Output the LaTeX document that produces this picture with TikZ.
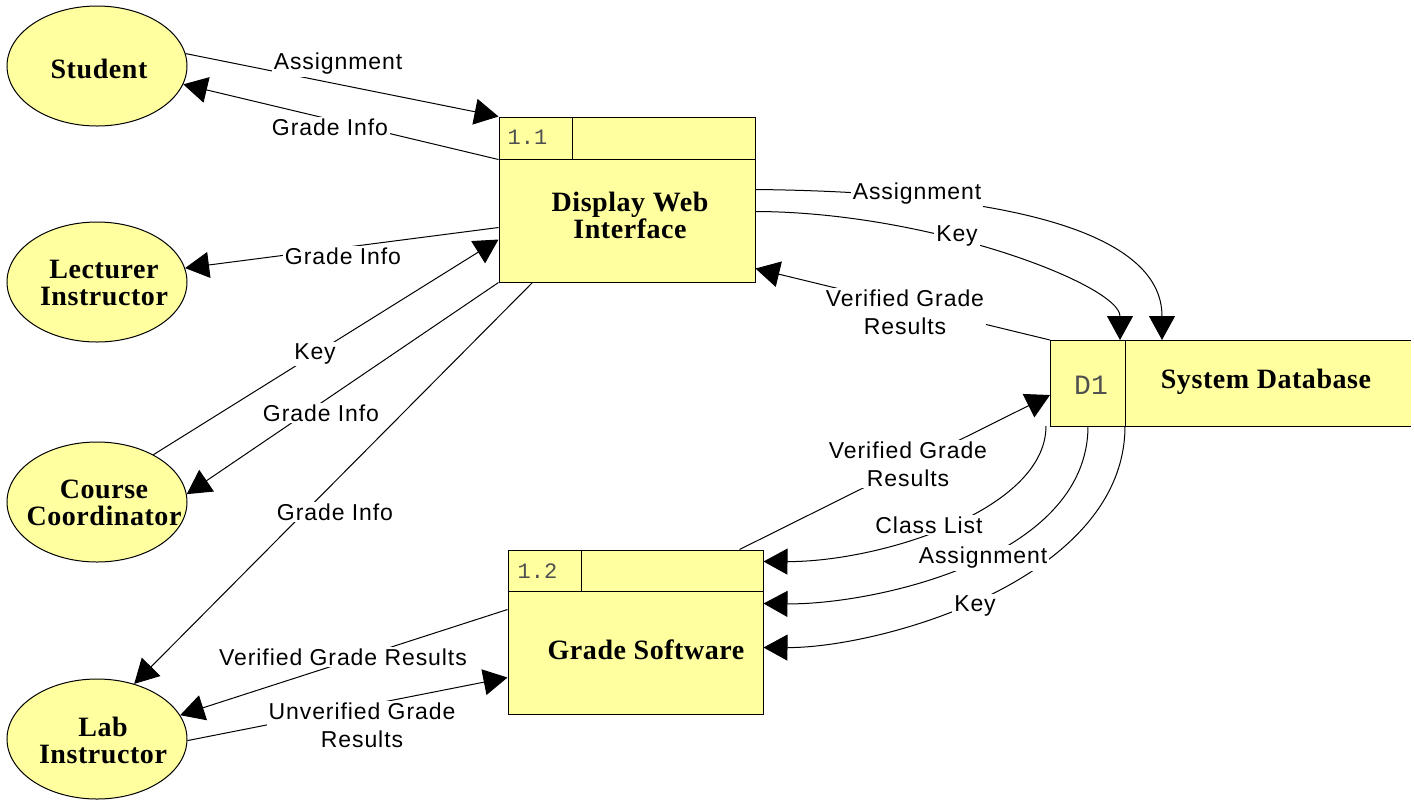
\documentclass[tikz,border=0pt]{standalone}
\usepackage{fontspec}
\setmainfont{Liberation Serif}[LetterSpace=2]
\newfontfamily\lblfamily[LetterSpace=4]{Liberation Sans}
\newfontfamily\idfamily{Liberation Mono}
\usetikzlibrary{shapes.geometric,arrows.meta,calc}
\definecolor{dfdfill}{RGB}{255,255,160}
\definecolor{idgray}{RGB}{80,80,80}

\tikzset{
  x=0.5pt, y=-0.5pt,
  flow/.style={line width=0.5pt, -{Triangle[length=12pt,width=13pt]}},
  entity/.style={ellipse, draw, line width=0.5pt, fill=dfdfill,
    minimum width=90pt, minimum height=60pt, inner sep=0pt},
  nametext/.style={font=\fontsize{14}{13.5}\selectfont\bfseries, align=center, inner sep=0pt},
  process/.style={draw, fill=dfdfill, line width=0.5pt, inner sep=0pt},
  store/.style={fill=dfdfill, inner sep=0pt, outer sep=0pt},
  idtext/.style={font=\idfamily\fontsize{11}{12}\selectfont, text=idgray, inner sep=0pt},
  flowlabel/.style={fill=white, inner sep=1pt, align=center,
    font=\fontsize{11.5}{14}\lblfamily},
  rule/.style={line width=0.5pt},
}

\begin{document}
\begin{tikzpicture}
\useasboundingbox (0,0) rectangle (1414,800);

% external entities
\node[entity] (student) at (97,66) {};
\node[nametext] (student-t) at (99,69) {Student};
\node[entity] (lect) at (97,282) {};
\node[nametext] (lect-t) at (104,283) {Lecturer\\Instructor};
\node[entity] (cc) at (97,502) {};
\node[nametext] (cc-t) at (104,503) {Course\\Coordinator};
\node[entity] (lab) at (97,739) {};
\node[nametext] (lab-t) at (103,740) {Lab\\Instructor};

% process 1.1
\node[process, minimum width=128pt, minimum height=82.5pt] (dwi) at (627,199.5) {};
\draw[rule] ($(dwi.north west)+(0,43)$) -- ($(dwi.north east)+(0,43)$);
\draw[rule] ($(dwi.north west)+(74,0)$) -- ($(dwi.north west)+(74,43)$);
\node[idtext] (dwi-id) at ($(dwi.north west)+(29,21)$) {1.1};
\node[nametext] (dwi-t) at (630,215) {Display Web\\Interface};

% process 1.2
\node[process, minimum width=127.5pt, minimum height=82pt] (gs) at (635.5,632) {};
\draw[rule] ($(gs.north west)+(0,42)$) -- ($(gs.north east)+(0,42)$);
\draw[rule] ($(gs.north west)+(74,0)$) -- ($(gs.north west)+(74,42)$);
\node[idtext] (gs-id) at ($(gs.north west)+(30,22)$) {1.2};
\node[nametext] (gs-t) at (646,650) {Grade Software};

% data store D1
\node[store, minimum width=180.5pt, minimum height=43pt] (db) at (1230.5,383) {};
\draw[rule] (db.north east) -- (db.north west) -- (db.south west) -- (db.south east);
\draw[rule] ($(db.north west)+(75,0)$) -- ($(db.south west)+(75,0)$);
\node[idtext, font=\idfamily\fontsize{14}{15}\selectfont] (db-id) at ($(db.north west)+(41,45)$) {D1};
\node[nametext] (db-t) at (1266,382) {System Database};

% data flows
\draw[flow] (student.8) -- (dwi.north west);
\draw[flow] ($(dwi.north west)+(0,43)$) -- (student.-12);
\draw[flow] ($(dwi.north west)+(0,111)$) -- (lect.9);
\draw[flow] (cc.40) -- ($(dwi.north west)+(0,123)$);
\draw[flow] (dwi.south west) -- (cc.5);
\draw[flow] ($(dwi.south west)+(34,0)$) -- (lab.56);

\draw[flow] ($(dwi.north east)+(0,73)$) .. controls (1000,192) and (1162,230) .. ($(db.north west)+(112,0)$);
\draw[flow] ($(dwi.north east)+(0,95)$) .. controls (930,212) and (1120,285) .. ($(db.north west)+(70,0)$);
\draw[flow] (db.north west) -- ($(dwi.south east)+(0,-14)$);

\draw[flow] ($(gs.north west)+(232,0)$) -- ($(db.north west)+(0,55)$);
\draw[flow] ($(db.south west)+(-4,0)$) .. controls (1046,510) and (880,562) .. ($(gs.north east)+(0,12)$);
\draw[flow] ($(db.south west)+(38,0)$) .. controls (1088,560) and (870,605) .. ($(gs.north east)+(0,54)$);
\draw[flow] ($(db.south west)+(75,0)$) .. controls (1125,580) and (880,648) .. ($(gs.north east)+(0,98)$);

\draw[flow] ($(gs.north west)+(0,60)$) -- (lab.16);
\draw[flow] (lab.-1) -- ($(gs.north west)+(0,128)$);

% flow labels
\node[flowlabel] (l-sa) at (338,64) {Assignment};
\node[flowlabel] (l-sg) at (330,127) {Grade Info};
\node[flowlabel] (l-lg) at (343,256) {Grade Info};
\node[flowlabel] (l-ck) at (315,354) {Key};
\node[flowlabel] (l-cg) at (321,413) {Grade Info};
\node[flowlabel] (l-bg) at (335,512) {Grade Info};
\node[flowlabel] (l-da) at (917,194) {Assignment};
\node[flowlabel] (l-dk) at (957,236) {Key};
\node[flowlabel] (l-dv) at (905,312) {Verified Grade\\Results};
\node[flowlabel] (l-gv) at (908,464) {Verified Grade\\Results};
\node[flowlabel] (l-cl) at (929,525) {Class List};
\node[flowlabel] (l-ga) at (983,558) {Assignment};
\node[flowlabel] (l-gk) at (975,606) {Key};
\node[flowlabel] (l-lv) at (343,657) {Verified Grade Results};
\node[flowlabel] (l-lu) at (362,725) {Unverified Grade\\Results};
\end{tikzpicture}
\end{document}
